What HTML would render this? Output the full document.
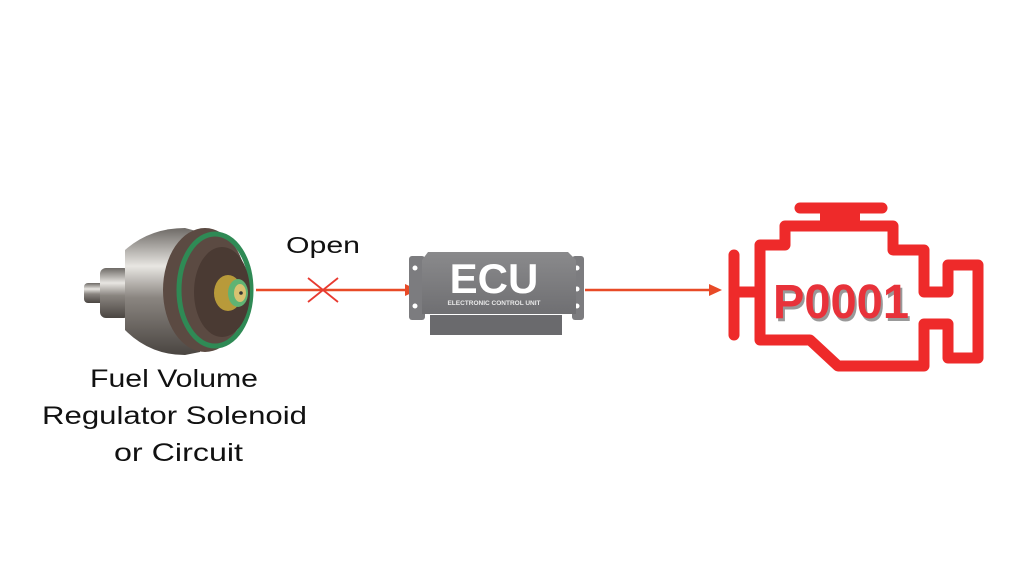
<!DOCTYPE html>
<html><head><style>
html,body{margin:0;padding:0;background:#fff;}
svg{display:block}
</style></head><body>
<svg width="1024" height="576" viewBox="0 0 1024 576" xmlns="http://www.w3.org/2000/svg">
<defs>
<linearGradient id="met" x1="0" y1="0" x2="0" y2="1">
<stop offset="0" stop-color="#6e6a66"/><stop offset="0.3" stop-color="#e8e6e2"/><stop offset="0.55" stop-color="#8a8580"/><stop offset="1" stop-color="#4a4541"/>
</linearGradient>
<linearGradient id="ecu" x1="0" y1="0" x2="0" y2="1">
<stop offset="0" stop-color="#8a8a8c"/><stop offset="1" stop-color="#6f6f72"/>
</linearGradient>
</defs>
<!-- regulator -->
<rect x="84" y="283" width="20" height="20" rx="4" fill="url(#met)"/>
<rect x="100" y="268" width="30" height="50" rx="6" fill="url(#met)"/>
<path d="M125 250 Q150 228 185 228 L200 232 L200 352 L185 355 Q150 355 125 330 Z" fill="url(#met)"/>
<ellipse cx="205" cy="290" rx="42" ry="62" fill="#5b4a42"/>
<ellipse cx="215" cy="290" rx="36" ry="56" fill="none" stroke="#2f8a55" stroke-width="5"/>
<ellipse cx="222" cy="292" rx="28" ry="45" fill="#4a3a33"/>
<ellipse cx="228" cy="293" rx="14" ry="18" fill="#b89a3a"/>
<ellipse cx="238" cy="293" rx="10" ry="14" fill="#5fb373"/>
<ellipse cx="240" cy="293" rx="6" ry="9" fill="#d9c271"/>
<circle cx="241" cy="293" r="1.8" fill="#333"/>
<!-- arrows -->
<line x1="256" y1="290" x2="408" y2="290" stroke="#e84a27" stroke-width="2.5"/>
<path d="M405 284 L418 290 L405 296 Z" fill="#e84a27"/>
<line x1="308" y1="278" x2="338" y2="302" stroke="#e83a30" stroke-width="1.8"/>
<line x1="308" y1="302" x2="338" y2="278" stroke="#e83a30" stroke-width="1.8"/>
<line x1="585" y1="290" x2="712" y2="290" stroke="#e84a27" stroke-width="2.5"/>
<path d="M709 284 L722 290 L709 296 Z" fill="#e84a27"/>
<text x="286" y="253" font-family="Liberation Sans, sans-serif" font-size="23" fill="#111" textLength="74" lengthAdjust="spacingAndGlyphs">Open</text>
<!-- ECU -->
<rect x="409" y="256" width="16" height="64" rx="3" fill="#7c7c7f"/>
<rect x="572" y="256" width="12" height="64" rx="3" fill="#7c7c7f"/>
<circle cx="415" cy="268" r="2.5" fill="#fff"/><circle cx="415" cy="306" r="2.5" fill="#fff"/>
<circle cx="577" cy="268" r="2.5" fill="#fff"/><circle cx="577" cy="289" r="2.5" fill="#fff"/><circle cx="577" cy="306" r="2.5" fill="#fff"/>
<path d="M428 252 L568 252 L576 260 L576 314 L422 314 L422 260 Z" fill="url(#ecu)"/>
<rect x="430" y="315" width="132" height="20" fill="#6a6a6d"/>
<text x="494" y="293" font-family="Liberation Sans, sans-serif" font-weight="bold" font-size="42" text-anchor="middle" fill="#fff">ECU</text>
<text x="494" y="305" font-family="Liberation Sans, sans-serif" font-weight="bold" font-size="6.5" text-anchor="middle" fill="#e8e8e8">ELECTRONIC CONTROL UNIT</text>
<!-- engine icon -->
<g fill="none" stroke="#ee2a2a" stroke-width="11" stroke-linecap="round" stroke-linejoin="round">
<line x1="800" y1="208" x2="882" y2="208"/>
<path d="M785 232 L785 226 L893 226 L893 250 L924 250 L924 292 L948 292 L948 265 L978 265 L978 358 L948 358 L948 324 L924 324 L924 366 L838 366 L810 340 L760 340 L760 245 L785 245 Z"/>
<line x1="734" y1="255" x2="734" y2="335"/>
<line x1="734" y1="292" x2="760" y2="292"/>
</g>
<rect x="820" y="210" width="40" height="14" fill="#ee2a2a"/>
<text x="843" y="321" font-family="Liberation Sans, sans-serif" font-weight="bold" font-size="48" text-anchor="middle" fill="#999" textLength="136" lengthAdjust="spacingAndGlyphs">P0001</text>
<text x="841" y="318" font-family="Liberation Sans, sans-serif" font-weight="bold" font-size="48" text-anchor="middle" fill="#e8323a" textLength="136" lengthAdjust="spacingAndGlyphs">P0001</text>
<!-- label -->
<g font-family="Liberation Sans, sans-serif" font-size="25" fill="#111" lengthAdjust="spacingAndGlyphs">
<text x="90" y="387" textLength="168" lengthAdjust="spacingAndGlyphs">Fuel Volume</text>
<text x="42" y="424" textLength="265" lengthAdjust="spacingAndGlyphs">Regulator Solenoid</text>
<text x="114" y="461" textLength="129" lengthAdjust="spacingAndGlyphs">or Circuit</text>
</g>
</svg>
</body></html>
